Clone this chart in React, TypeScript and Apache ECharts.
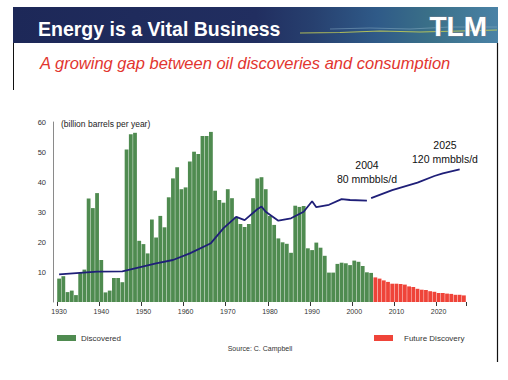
import React, { useEffect, useRef } from 'react';
import * as echarts from 'echarts';

// Categories: one bar per year
const years: string[] = [];
for (let y = 1930; y <= 2026; y++) years.push(String(y));

// Discovered oil, billion barrels per year (1930 .. 2004)
const discovered = [
  7.8, 8.6, 3.3, 3.8, 2.3, 9.7, 10.8, 34.5, 31.3, 36.3,
  14.0, 3.2, 3.8, 8.0, 8.0, 6.6, 50.8, 55.9, 56.4, 20.4,
  19.3, 16.2, 27.5, 21.5, 28.7, 24.9, 34.9, 41.2, 44.9, 37.6,
  38.2, 46.8, 50.1, 49.3, 55.3, 55.3, 56.7, 37.1, 34.0, 33.1,
  37.6, 34.6, 28.4, 26.0, 25.0, 26.0, 34.6, 41.2, 41.6, 37.6,
  28.7, 25.7, 21.2, 19.9, 19.4, 16.4, 32.1, 31.7, 32.0, 17.9,
  17.3, 19.8, 18.1, 15.4, 9.8, 9.8, 12.7, 13.1, 12.9, 12.3,
  13.8, 13.4, 12.0, 9.9, 9.7,
];

// Future discovery (2005 .. 2026)
const futureDiscovery = [
  8.2, 7.8, 7.2, 6.7, 6.1, 6.1, 6.0, 5.8, 5.2, 5.0,
  4.4, 4.1, 4.0, 3.6, 3.4, 3.0, 3.0, 2.8, 2.7, 2.4,
  2.4, 2.2,
];

// Consumption (read at selected years), billion barrels per year
const consumptionYears = [
  1930, 1939, 1945, 1947, 1953, 1957, 1961, 1966, 1969, 1972,
  1974, 1977, 1978, 1979, 1982, 1985, 1988, 1990, 1991, 1994,
  1997, 1999, 2003,
];
const consumptionValues = [
  9.2, 10.1, 10.2, 10.9, 12.9, 14.0, 16.2, 19.6, 24.6, 28.4,
  27.3, 30.9, 31.8, 30.1, 27.1, 27.9, 30.1, 33.6, 31.6, 32.4,
  34.3, 34.0, 33.8,
];
const projectionYears = [2004, 2009, 2015, 2019, 2021, 2025];
const projectionValues = [34.6, 37.3, 39.8, 42.0, 42.9, 44.2];

const yTicks = [0, 10, 20, 30, 40, 50, 60];

const FONT = '"Liberation Sans", Arial, Helvetica, sans-serif';

function toFull(ys: number[], vs: number[]) {
  return years.map((y) => {
    const idx = ys.indexOf(Number(y));
    return idx >= 0 ? vs[idx] : null;
  });
}

export default function App() {
  const ref = useRef<HTMLDivElement>(null);

  useEffect(() => {
    if (!ref.current) return;
    const chart = echarts.init(ref.current, undefined, { renderer: 'svg' });

    const discoveredFull = years.map((_, i) => (i < discovered.length ? discovered[i] : null));
    const futureFull = years.map((_, i) =>
      i >= discovered.length && i - discovered.length < futureDiscovery.length
        ? futureDiscovery[i - discovered.length]
        : null
    );
    const histFull = toFull(consumptionYears, consumptionValues);
    const projFull = toFull(projectionYears, projectionValues);

    const decade = (_idx: number, val: string) => Number(val) % 10 === 0;

    chart.setOption({
      animation: false,
      backgroundColor: '#ffffff',
      textStyle: { fontFamily: FONT },
      grid: { left: 57, right: 42, top: 122, bottom: 78, containLabel: false },
      legend: [
        {
          data: [{ name: 'Discovered', icon: 'rect' }],
          left: 52,
          top: 329,
          itemWidth: 19,
          itemHeight: 6,
          textStyle: { fontSize: 8, color: '#333', fontFamily: FONT },
          selectedMode: false,
        },
        {
          data: [{ name: 'Future Discovery', icon: 'rect' }],
          left: 369,
          top: 329,
          itemWidth: 19,
          itemHeight: 6,
          textStyle: { fontSize: 8, color: '#333', fontFamily: FONT, padding: [0, 0, 0, 6] },
          selectedMode: false,
        },
      ],
      xAxis: {
        type: 'category',
        data: years,
        boundaryGap: true,
        axisLine: { show: false },
        axisTick: { show: true, interval: decade, length: 4, lineStyle: { color: '#333', width: 1 } },
        axisLabel: {
          interval: decade,
          fontSize: 7,
          color: '#333',
          margin: 6,
          fontFamily: FONT,
        },
        splitLine: { show: false },
      },
      yAxis: {
        type: 'value',
        min: 0,
        max: 60,
        interval: 10,
        offset: 4,
        axisLine: { show: true, lineStyle: { color: '#8a8a8a', width: 1 } },
        axisTick: { show: false },
        splitLine: { show: false },
        axisLabel: {
          fontSize: 7.5,
          color: '#333',
          margin: 7,
          fontFamily: FONT,
          formatter: (v: number) => (v === 0 || yTicks.indexOf(v) < 0 ? '' : String(v)),
        },
      },
      series: [
        {
          name: 'Discovered',
          type: 'bar',
          stack: 'disc',
          data: discoveredFull,
          barCategoryGap: '10%',
          itemStyle: { color: '#4f8b50' },
        },
        {
          name: 'Future Discovery',
          type: 'bar',
          stack: 'disc',
          data: futureFull,
          barCategoryGap: '10%',
          itemStyle: { color: '#ef4439' },
        },
        {
          name: 'Consumption',
          type: 'line',
          data: histFull,
          connectNulls: true,
          symbol: 'none',
          z: 5,
          lineStyle: { color: '#1f1f78', width: 1.8 },
        },
        {
          name: 'Projection',
          type: 'line',
          data: projFull,
          connectNulls: true,
          symbol: 'none',
          z: 5,
          lineStyle: { color: '#1f1f78', width: 1.8 },
        },
      ],
      graphic: [
        {
          type: 'rect',
          shape: { x: 13, y: 7, width: 485, height: 36 },
          style: {
            fill: new echarts.graphic.LinearGradient(0, 0, 1, 0, [
              { offset: 0, color: '#1d2858' },
              { offset: 0.5, color: '#212e60' },
              { offset: 0.62, color: '#27406f' },
              { offset: 0.75, color: '#2f5a88' },
              { offset: 0.86, color: '#3a7088' },
              { offset: 1, color: '#4a82a6' },
            ]),
          },
          z: 10,
        },
        {
          type: 'polyline',
          shape: { points: [[300, 33], [340, 32.5], [380, 31], [420, 32], [460, 31], [497, 30]] },
          style: { stroke: '#c6cf55', lineWidth: 1.2, opacity: 0.85, fill: null },
          z: 11,
        },
        {
          type: 'polyline',
          shape: { points: [[330, 29], [370, 28], [410, 29], [450, 27], [497, 27]] },
          style: { stroke: '#8fb3c8', lineWidth: 0.8, opacity: 0.6, fill: null },
          z: 11,
        },
        {
          type: 'text',
          style: {
            text: 'Energy is a Vital Business',
            x: 38,
            y: 29,
            fill: '#ffffff',
            fontSize: 19.5,
            fontWeight: 'bold',
            fontFamily: FONT,
            textAlign: 'left',
            align: 'left',
            textVerticalAlign: 'middle',
            verticalAlign: 'middle',
          },
          z: 12,
        },
        {
          type: 'text',
          style: {
            text: 'TLM',
            x: 487,
            y: 26,
            fill: '#ffffff',
            fontSize: 28,
            fontWeight: 'bold',
            fontFamily: FONT,
            stroke: '#6b7f8f',
            lineWidth: 1.2,
            textAlign: 'right',
            align: 'right',
            textVerticalAlign: 'middle',
            verticalAlign: 'middle',
          },
          z: 12,
        },
        {
          type: 'text',
          style: {
            text: 'A growing gap between oil discoveries and consumption',
            x: 40,
            y: 62.5,
            fill: '#e2352f',
            fontSize: 16.5,
            fontStyle: 'italic',
            fontFamily: FONT,
            textAlign: 'left',
            align: 'left',
            textVerticalAlign: 'middle',
            verticalAlign: 'middle',
          },
          z: 12,
        },
        {
          type: 'line',
          shape: { x1: 13.5, y1: 43, x2: 13.5, y2: 90 },
          style: { stroke: '#111', lineWidth: 1 },
        },
        {
          type: 'line',
          shape: { x1: 497.5, y1: 43, x2: 497.5, y2: 362 },
          style: { stroke: '#111', lineWidth: 1.2 },
        },
        {
          type: 'text',
          style: {
            text: '(billion barrels per year)',
            x: 61,
            y: 124,
            fill: '#222',
            fontSize: 8.5,
            fontFamily: FONT,
            textAlign: 'left',
            align: 'left',
            textVerticalAlign: 'middle',
            verticalAlign: 'middle',
          },
        },
        {
          type: 'text',
          style: {
            text: '2004\n80 mmbbls/d',
            x: 367,
            y: 172,
            fill: '#111',
            fontSize: 10.5,
            lineHeight: 14,
            fontFamily: FONT,
            textAlign: 'center',
            align: 'center',
            textVerticalAlign: 'middle',
            verticalAlign: 'middle',
          },
        },
        {
          type: 'text',
          style: {
            text: '2025\n120 mmbbls/d',
            x: 445,
            y: 152,
            fill: '#111',
            fontSize: 10.5,
            lineHeight: 14,
            fontFamily: FONT,
            textAlign: 'center',
            align: 'center',
            textVerticalAlign: 'middle',
            verticalAlign: 'middle',
          },
        },
        {
          type: 'text',
          style: {
            text: 'Source: C. Campbell',
            x: 260,
            y: 348,
            fill: '#333',
            fontSize: 7,
            fontFamily: FONT,
            textAlign: 'center',
            align: 'center',
            textVerticalAlign: 'middle',
            verticalAlign: 'middle',
          },
        },
      ],
    });

    return () => chart.dispose();
  }, []);

  return (
    <div
      ref={ref}
      style={{ position: 'fixed', left: 0, top: 0, width: 508, height: 380, background: '#fff' }}
    />
  );
}
